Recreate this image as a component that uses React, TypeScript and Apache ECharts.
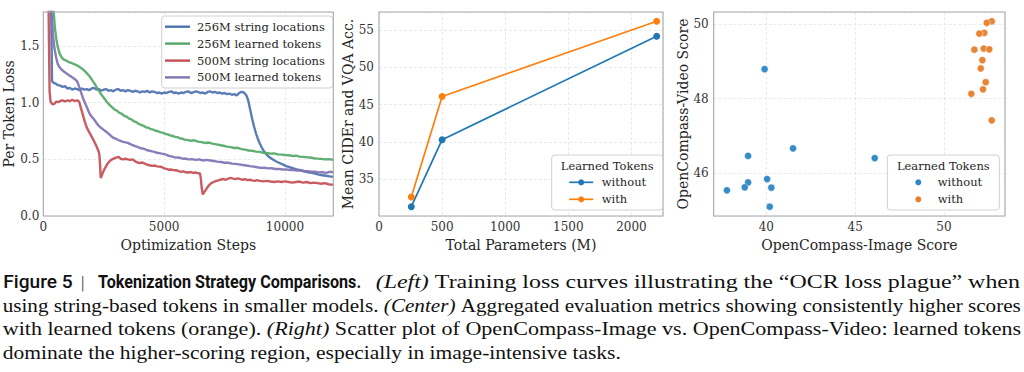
import { useEffect, useRef } from 'react';
import * as echarts from 'echarts';

// ---------- Left panel: training loss curves (step, loss) ----------
const lossSeriesNames = ['256M string locations', '256M learned tokens', '500M string locations', '500M learned tokens'];

const loss256String: [number, number][] = [
  [80, 3.2], [330, 1.75], [360, 1.19], [420, 1.175], [500, 1.17], [600, 1.155], [700, 1.15], [800, 1.14], [900, 1.145],
  [1000, 1.125], [1100, 1.13], [1200, 1.115], [1300, 1.125], [1400, 1.12], [1500, 1.11], [1600, 1.125], [1700, 1.115],
  [1800, 1.12], [1900, 1.11], [2000, 1.125], [2100, 1.13], [2200, 1.115], [2300, 1.12], [2400, 1.105], [2500, 1.115],
  [2600, 1.12], [2700, 1.105], [2800, 1.11], [2900, 1.1], [3000, 1.115], [3100, 1.12], [3200, 1.105], [3300, 1.11],
  [3400, 1.1], [3500, 1.11], [3600, 1.105], [3700, 1.095], [3800, 1.105], [3900, 1.1], [4000, 1.09], [4100, 1.1],
  [4200, 1.095], [4300, 1.105], [4400, 1.09], [4500, 1.1], [4600, 1.095], [4700, 1.085], [4800, 1.09], [4900, 1.08],
  [5000, 1.09], [5100, 1.085], [5200, 1.095], [5300, 1.1], [5400, 1.085], [5500, 1.09], [5600, 1.08], [5700, 1.09],
  [5800, 1.085], [5900, 1.095], [6000, 1.1], [6100, 1.085], [6200, 1.09], [6300, 1.1], [6400, 1.095], [6500, 1.085],
  [6600, 1.09], [6700, 1.08], [6800, 1.095], [6900, 1.1], [7000, 1.09], [7100, 1.095], [7200, 1.085], [7300, 1.09],
  [7400, 1.08], [7500, 1.085], [7600, 1.075], [7700, 1.08], [7800, 1.07], [7900, 1.075], [8000, 1.065], [8100, 1.085],
  [8200, 1.095], [8300, 1.09], [8400, 1.065], [8480, 1.02], [8560, 0.94], [8640, 0.86], [8720, 0.79], [8800, 0.73],
  [8880, 0.68], [8960, 0.64], [9050, 0.6], [9150, 0.565], [9250, 0.54], [9350, 0.52], [9450, 0.505], [9600, 0.485],
  [9750, 0.47], [9900, 0.455], [10050, 0.44], [10200, 0.43], [10350, 0.42], [10500, 0.41], [10650, 0.405],
  [10800, 0.395], [10950, 0.385], [11100, 0.38], [11250, 0.375], [11400, 0.365], [11550, 0.36], [11700, 0.355],
  [11850, 0.35], [12000, 0.345],
];

const loss256Learned: [number, number][] = [
  [150, 3.2], [430, 1.8], [480, 1.66], [540, 1.56], [600, 1.49], [680, 1.43], [760, 1.4], [850, 1.38], [950, 1.372],
  [1050, 1.358], [1150, 1.352], [1250, 1.342], [1350, 1.333], [1450, 1.322], [1550, 1.308], [1650, 1.292],
  [1750, 1.272], [1850, 1.248], [1950, 1.222], [2050, 1.19], [2150, 1.158], [2250, 1.122], [2350, 1.088],
  [2450, 1.058], [2550, 1.03], [2650, 1.002], [2750, 0.978], [2850, 0.958], [2950, 0.94], [3050, 0.928],
  [3150, 0.91], [3250, 0.902], [3350, 0.884], [3450, 0.876], [3550, 0.86], [3650, 0.852], [3750, 0.836],
  [3850, 0.828], [3950, 0.812], [4050, 0.804], [4150, 0.796], [4250, 0.782], [4350, 0.778], [4450, 0.766],
  [4550, 0.762], [4650, 0.752], [4750, 0.748], [4850, 0.738], [4950, 0.736], [5050, 0.724], [5150, 0.72],
  [5250, 0.712], [5350, 0.706], [5450, 0.698], [5550, 0.696], [5650, 0.686], [5750, 0.682], [5850, 0.674],
  [5950, 0.672], [6100, 0.664], [6250, 0.668], [6400, 0.656], [6550, 0.652], [6700, 0.644], [6850, 0.648],
  [7000, 0.638], [7150, 0.632], [7300, 0.626], [7450, 0.62], [7600, 0.612], [7750, 0.608], [7900, 0.6],
  [8050, 0.602], [8200, 0.59], [8350, 0.586], [8500, 0.578], [8650, 0.576], [8800, 0.568], [8950, 0.566],
  [9100, 0.558], [9250, 0.556], [9400, 0.55], [9550, 0.552], [9700, 0.544], [9850, 0.542], [10000, 0.538],
  [10150, 0.536], [10300, 0.53], [10450, 0.532], [10600, 0.524], [10750, 0.522], [10900, 0.518], [11050, 0.516],
  [11200, 0.51], [11350, 0.506], [11500, 0.504], [11650, 0.5], [11800, 0.502], [12000, 0.496],
];

const loss500String: [number, number][] = [
  [50, 3.2], [220, 1.8], [260, 1.1], [300, 1.01], [380, 0.985], [460, 0.99], [540, 1.01], [620, 1.005], [700, 1.015],
  [800, 1.02], [900, 1.01], [1000, 1.02], [1100, 1.015], [1200, 1.025], [1300, 1.015], [1400, 1.02], [1480, 1.01],
  [1560, 0.95], [1640, 0.89], [1720, 0.83], [1800, 0.78], [1900, 0.74], [2000, 0.7], [2100, 0.66], [2200, 0.615],
  [2280, 0.575], [2320, 0.54], [2350, 0.45], [2375, 0.335], [2420, 0.36], [2480, 0.39], [2560, 0.425], [2650, 0.46],
  [2750, 0.485], [2850, 0.5], [2950, 0.51], [3050, 0.518], [3120, 0.522], [3200, 0.505], [3300, 0.5], [3400, 0.505],
  [3500, 0.5], [3600, 0.495], [3700, 0.5], [3800, 0.482], [3900, 0.472], [4000, 0.468], [4100, 0.472], [4200, 0.462],
  [4300, 0.452], [4400, 0.448], [4500, 0.442], [4600, 0.446], [4700, 0.438], [4800, 0.436], [4900, 0.432],
  [5000, 0.42], [5100, 0.416], [5200, 0.408], [5300, 0.41], [5400, 0.404], [5500, 0.405], [5600, 0.396],
  [5700, 0.39], [5800, 0.394], [5900, 0.386], [6000, 0.384], [6100, 0.388], [6200, 0.38], [6300, 0.384],
  [6400, 0.376], [6480, 0.378], [6520, 0.33], [6560, 0.24], [6600, 0.19], [6660, 0.21], [6750, 0.24], [6850, 0.27],
  [6950, 0.29], [7050, 0.3], [7150, 0.31], [7250, 0.315], [7350, 0.322], [7450, 0.326], [7550, 0.32], [7650, 0.33],
  [7750, 0.336], [7850, 0.33], [7950, 0.326], [8050, 0.332], [8150, 0.325], [8250, 0.32], [8350, 0.326],
  [8450, 0.316], [8550, 0.32], [8650, 0.314], [8750, 0.31], [8850, 0.316], [8950, 0.31], [9100, 0.305],
  [9250, 0.31], [9400, 0.304], [9550, 0.3], [9700, 0.306], [9850, 0.3], [10000, 0.305], [10150, 0.3],
  [10300, 0.295], [10450, 0.3], [10600, 0.304], [10750, 0.295], [10900, 0.3], [11050, 0.29], [11200, 0.295],
  [11350, 0.29], [11500, 0.285], [11650, 0.29], [11800, 0.28], [12000, 0.275],
];

const loss500Learned: [number, number][] = [
  [80, 3.2], [340, 1.8], [400, 1.6], [460, 1.48], [530, 1.4], [600, 1.34], [680, 1.31], [760, 1.29], [850, 1.275],
  [950, 1.26], [1050, 1.245], [1150, 1.23], [1250, 1.215], [1350, 1.2], [1420, 1.18], [1500, 1.13], [1580, 1.08],
  [1660, 1.03], [1740, 0.99], [1820, 0.95], [1900, 0.91], [1980, 0.882], [2060, 0.862], [2140, 0.84], [2220, 0.815],
  [2300, 0.795], [2400, 0.776], [2500, 0.76], [2600, 0.744], [2700, 0.726], [2800, 0.706], [2900, 0.69],
  [3000, 0.682], [3100, 0.67], [3200, 0.662], [3300, 0.654], [3400, 0.65], [3500, 0.645], [3600, 0.634],
  [3700, 0.626], [3800, 0.616], [3900, 0.61], [4000, 0.6], [4100, 0.596], [4200, 0.59], [4300, 0.58], [4400, 0.576],
  [4500, 0.57], [4600, 0.566], [4700, 0.558], [4800, 0.555], [4900, 0.55], [5000, 0.546], [5100, 0.54], [5200, 0.53],
  [5300, 0.526], [5400, 0.52], [5500, 0.515], [5600, 0.516], [5700, 0.51], [5800, 0.505], [5900, 0.507], [6000, 0.5],
  [6150, 0.502], [6300, 0.495], [6450, 0.5], [6600, 0.49], [6750, 0.495], [6900, 0.49], [7050, 0.485], [7200, 0.48],
  [7350, 0.476], [7500, 0.47], [7650, 0.47], [7800, 0.462], [7950, 0.46], [8100, 0.455], [8250, 0.45], [8400, 0.446],
  [8550, 0.44], [8700, 0.436], [8850, 0.43], [9000, 0.425], [9150, 0.426], [9300, 0.42], [9450, 0.421], [9600, 0.415],
  [9750, 0.416], [9900, 0.41], [10050, 0.411], [10200, 0.405], [10350, 0.406], [10500, 0.4], [10650, 0.401],
  [10800, 0.395], [10950, 0.396], [11100, 0.39], [11250, 0.392], [11400, 0.385], [11550, 0.386], [11700, 0.38],
  [11850, 0.39], [12000, 0.385],
];

// ---------- Center panel ----------
const paramSizes = [256, 500, 2200];
const accWithout = [31.3, 40.3, 54.2];
const accWith = [32.6, 46.1, 56.2];

// ---------- Right panel ----------
const imgWithout = [39.9, 38.97, 41.5, 46.1, 38.97, 38.78, 37.78, 40.04, 40.28, 40.19];
const vidWithout = [48.79, 46.47, 46.67, 46.41, 45.76, 45.63, 45.55, 45.85, 45.62, 45.11];
const imgWith = [52.69, 52.41, 52.27, 51.99, 51.71, 52.24, 52.55, 52.16, 52.07, 52.35, 52.2, 51.54, 52.69];
const vidWith = [50.07, 50.03, 49.76, 49.74, 49.31, 49.34, 49.32, 49.03, 48.81, 48.44, 48.25, 48.13, 47.42];

const groupLabels = ['without', 'with'];
const legendTitle = 'Learned Tokens';

// ---------- Caption ----------
const captionHead = 'Figure 5';
const captionBar = '|';
const captionTitle = 'Tokenization Strategy Comparisons.';
const captionLines: [string, boolean][][] = [
  [['(Left) ', true], ['Training loss curves illustrating the “OCR loss plague” when', false]],
  [['using string-based tokens in smaller models. ', false], ['(Center) ', true], ['Aggregated evaluation metrics showing consistently higher scores', false]],
  [['with learned tokens (orange). ', false], ['(Right) ', true], ['Scatter plot of OpenCompass-Image vs. OpenCompass-Video: learned tokens', false]],
  [['dominate the higher-scoring region, especially in image-intensive tasks.', false]],
];

const FONT = "'DejaVu Serif', serif";
const CAP_SERIF = "'Liberation Serif', serif";
const CAP_SANS = "Roboto, Inter, sans-serif";
const lossColors = ['#4c72b0', '#55a868', '#c44e52', '#8172b3'];
const tabBlue = '#1f77b4';
const tabOrange = '#ff7f0e';
const scBlue = '#2a86c4';
const scOrange = '#e77f2c';

function padRange(vals: number[], frac = 0.05): [number, number] {
  const lo = Math.min(...vals);
  const hi = Math.max(...vals);
  const p = (hi - lo) * frac;
  return [lo - p, hi + p];
}

let measureCtx: CanvasRenderingContext2D | null = null;
function textW(t: string, font: string) {
  if (!measureCtx) measureCtx = document.createElement('canvas').getContext('2d');
  measureCtx!.font = font;
  return measureCtx!.measureText(t).width;
}

function axis(extra: any) {
  const { axisLabel, ...rest } = extra;
  return {
    type: 'value',
    nameLocation: 'middle',
    axisLine: { show: false },
    axisTick: { show: false },
    splitLine: { show: true, lineStyle: { color: '#e0e7ea', type: [3, 2], width: 0.8 } },
    axisLabel: { color: '#333', fontFamily: FONT, fontSize: 12, margin: 5, ...(axisLabel || {}) },
    nameTextStyle: { color: '#262626', fontFamily: FONT, fontSize: 14 },
    ...rest,
  };
}

function buildOption() {
  const grids = [
    { left: 43.3, top: 12, width: 290, height: 204 },
    { left: 379, top: 12, width: 284, height: 204 },
    { left: 713.7, top: 12, width: 291.3, height: 204 },
  ];
  const midY = padRange([...accWithout, ...accWith]);
  const scX = padRange([...imgWithout, ...imgWith]);
  const scY = padRange([...vidWithout, ...vidWith]);

  const graphics: any[] = [];
  // frames
  grids.forEach((g) => {
    graphics.push({
      type: 'rect', z: 5, silent: true,
      shape: { x: g.left, y: g.top, width: g.width, height: g.height },
      style: { fill: 'none', stroke: '#a8a8a8', lineWidth: 1.1 },
    });
  });

  // left legend
  graphics.push({
    type: 'rect', z: 10, silent: true,
    shape: { x: 161.7, y: 16, width: 171, height: 72, r: 3 },
    style: { fill: 'rgba(255,255,255,0.85)', stroke: '#d0d0d0', lineWidth: 1 },
  });
  const rows = [26.7, 43.6, 60.6, 77.4];
  lossSeriesNames.forEach((n, i) => {
    graphics.push({
      type: 'line', z: 11, silent: true,
      shape: { x1: 165, y1: rows[i], x2: 190, y2: rows[i] },
      style: { stroke: lossColors[i], lineWidth: 2.4 },
    });
    graphics.push({
      type: 'text', z: 11, silent: true, x: 197, y: rows[i],
      style: { text: n, fontFamily: FONT, fontSize: 11.5, fill: '#262626', verticalAlign: 'middle', align: 'left' },
    });
  });

  // center + right legends
  const legendBox = (x: number, w: number, line: boolean, colors: string[]) => {
    graphics.push({
      type: 'rect', z: 10, silent: true,
      shape: { x, y: 155, width: w, height: 55, r: 3 },
      style: { fill: 'rgba(255,255,255,0.85)', stroke: '#d0d0d0', lineWidth: 1 },
    });
    graphics.push({
      type: 'text', z: 11, silent: true, x: x + w / 2, y: 165.7,
      style: { text: legendTitle, fontFamily: FONT, fontSize: 11.5, fill: '#262626', verticalAlign: 'middle', align: 'center' },
    });
    const lr = [182.3, 199.3];
    groupLabels.forEach((lab, i) => {
      if (line) {
        graphics.push({
          type: 'line', z: 11, silent: true,
          shape: { x1: x + 17.5, y1: lr[i], x2: x + 41.5, y2: lr[i] },
          style: { stroke: colors[i], lineWidth: 1.7 },
        });
        graphics.push({
          type: 'circle', z: 12, silent: true,
          shape: { cx: x + 29.5, cy: lr[i], r: 3 },
          style: { fill: colors[i] },
        });
        graphics.push({
          type: 'text', z: 11, silent: true, x: x + 50, y: lr[i],
          style: { text: lab, fontFamily: FONT, fontSize: 11.5, fill: '#262626', verticalAlign: 'middle', align: 'left' },
        });
      } else {
        graphics.push({
          type: 'circle', z: 12, silent: true,
          shape: { cx: x + 31, cy: lr[i], r: 3 },
          style: { fill: colors[i] },
        });
        graphics.push({
          type: 'text', z: 11, silent: true, x: x + 50.4, y: lr[i],
          style: { text: lab, fontFamily: FONT, fontSize: 11.5, fill: '#262626', verticalAlign: 'middle', align: 'left' },
        });
      }
    });
  };
  legendBox(551.7, 111, true, [tabBlue, tabOrange]);
  legendBox(887.3, 112, false, [scBlue, scOrange]);

  // caption
  const sansSize = 17.5;
  const serifSize = 18.5;
  const barFont = `400 ${sansSize}px ${CAP_SANS}`;
  const fitText = (text: string, weight: number, x0: number, x1: number, y: number) => {
    const w = textW(text, `${weight} ${sansSize}px ${CAP_SANS}`);
    graphics.push({
      type: 'text', z: 11, silent: true, x: x0, y, scaleX: (x1 - x0) / w,
      style: { text, fontFamily: CAP_SANS, fontSize: sansSize, fontWeight: weight, fill: '#111', verticalAlign: 'middle', align: 'left' },
    });
  };
  fitText(captionHead, 500, 3.3, 72.7, 282);
  const barW = textW(captionBar, barFont);
  graphics.push({
    type: 'text', z: 11, silent: true, x: 83 - barW / 2, y: 282.5,
    style: { text: captionBar, fontFamily: CAP_SANS, fontSize: sansSize, fontWeight: 300, fill: '#333', verticalAlign: 'middle', align: 'left' },
  });
  fitText(captionTitle, 700, 98, 361, 282);

  const lineSpecs = [
    { x0: 375.7, x1: 1020.5, y: 282.1 },
    { x0: 2.7, x1: 1021, y: 305.5 },
    { x0: 2.7, x1: 1021, y: 328.8 },
    { x0: 2.7, x1: 621, y: 352.1 },
  ];
  captionLines.forEach((parts, li) => {
    let w = 0;
    let str = '';
    parts.forEach(([t, it]) => {
      w += textW(t, `${it ? 'italic ' : ''}${serifSize}px ${CAP_SERIF}`);
      str += `{${it ? 'i' : 'n'}|${t}}`;
    });
    const sp = lineSpecs[li];
    graphics.push({
      type: 'text', z: 11, silent: true, x: sp.x0, y: sp.y, scaleX: (sp.x1 - sp.x0) / w,
      style: {
        text: str,
        fontFamily: CAP_SERIF, fontSize: serifSize, fill: '#111', verticalAlign: 'middle', align: 'left',
        rich: {
          n: { fontFamily: CAP_SERIF, fontSize: serifSize, fill: '#111' },
          i: { fontFamily: CAP_SERIF, fontSize: serifSize, fontStyle: 'italic', fill: '#111' },
        },
      },
    });
  });

  const lossData = [loss256String, loss256Learned, loss500String, loss500Learned];

  return {
    animation: false,
    backgroundColor: '#ffffff',
    grid: grids.map((g) => ({ ...g, containLabel: false })),
    xAxis: [
      axis({
        gridIndex: 0, min: 0, max: 12000, interval: 5000, name: 'Optimization Steps', nameGap: 15,
        axisLabel: { showMaxLabel: false, formatter: (v: number) => String(v) },
      }),
      axis({
        gridIndex: 1, min: 0, max: 2250, interval: 500, name: 'Total Parameters (M)', nameGap: 15,
        axisLabel: { showMaxLabel: false, formatter: (v: number) => String(v) },
      }),
      axis({
        gridIndex: 2, min: scX[0], max: scX[1], splitNumber: 3, name: 'OpenCompass-Image Score', nameGap: 15,
        axisLabel: { showMinLabel: false, showMaxLabel: false, formatter: (v: number) => String(v) },
      }),
    ],
    yAxis: [
      axis({
        gridIndex: 0, min: 0, max: 1.8, interval: 0.5, name: 'Per Token Loss', nameGap: 26,
        axisLabel: { showMaxLabel: false, margin: 4, formatter: (v: number) => v.toFixed(1) },
      }),
      axis({
        gridIndex: 1, min: midY[0], max: midY[1], splitNumber: 5, name: 'Mean CIDEr and VQA Acc.', nameGap: 23,
        axisLabel: { showMinLabel: false, showMaxLabel: false, margin: 5, formatter: (v: number) => String(v) },
      }),
      axis({
        gridIndex: 2, min: scY[0], max: scY[1], splitNumber: 3, name: 'OpenCompass-Video Score', nameGap: 22,
        axisLabel: { showMinLabel: false, showMaxLabel: false, margin: 5, formatter: (v: number) => String(v) },
      }),
    ],
    graphic: { elements: graphics },
    series: [
      ...lossData.map((d, i) => ({
        type: 'line', name: lossSeriesNames[i], xAxisIndex: 0, yAxisIndex: 0, data: d,
        showSymbol: false, symbol: 'none', clip: true, silent: true,
        lineStyle: { color: lossColors[i], width: 2.4, opacity: 0.92 },
        itemStyle: { color: lossColors[i] },
      })),
      {
        type: 'line', name: groupLabels[0], xAxisIndex: 1, yAxisIndex: 1,
        data: paramSizes.map((p, i) => [p, accWithout[i]]),
        symbol: 'circle', symbolSize: 7, silent: true,
        lineStyle: { color: tabBlue, width: 1.7 }, itemStyle: { color: tabBlue },
      },
      {
        type: 'line', name: groupLabels[1], xAxisIndex: 1, yAxisIndex: 1,
        data: paramSizes.map((p, i) => [p, accWith[i]]),
        symbol: 'circle', symbolSize: 7, silent: true,
        lineStyle: { color: tabOrange, width: 1.7 }, itemStyle: { color: tabOrange },
      },
      {
        type: 'scatter', name: groupLabels[0], xAxisIndex: 2, yAxisIndex: 2,
        data: imgWithout.map((x, i) => [x, vidWithout[i]]),
        symbolSize: 7.2, silent: true,
        itemStyle: { color: scBlue, borderColor: '#ffffff', borderWidth: 0.5, opacity: 0.95 },
      },
      {
        type: 'scatter', name: groupLabels[1], xAxisIndex: 2, yAxisIndex: 2,
        data: imgWith.map((x, i) => [x, vidWith[i]]),
        symbolSize: 7.2, silent: true,
        itemStyle: { color: scOrange, borderColor: '#ffffff', borderWidth: 0.5, opacity: 0.95 },
      },
    ],
  };
}

export default function App() {
  const ref = useRef<HTMLDivElement>(null);
  useEffect(() => {
    const chart = echarts.init(ref.current!, null, { renderer: 'svg' });
    chart.setOption(buildOption() as any);
    return () => chart.dispose();
  }, []);
  return (
    <div
      ref={ref}
      style={{ position: 'fixed', left: 0, top: 0, width: 1024, height: 372, background: '#fff' }}
    />
  );
}
